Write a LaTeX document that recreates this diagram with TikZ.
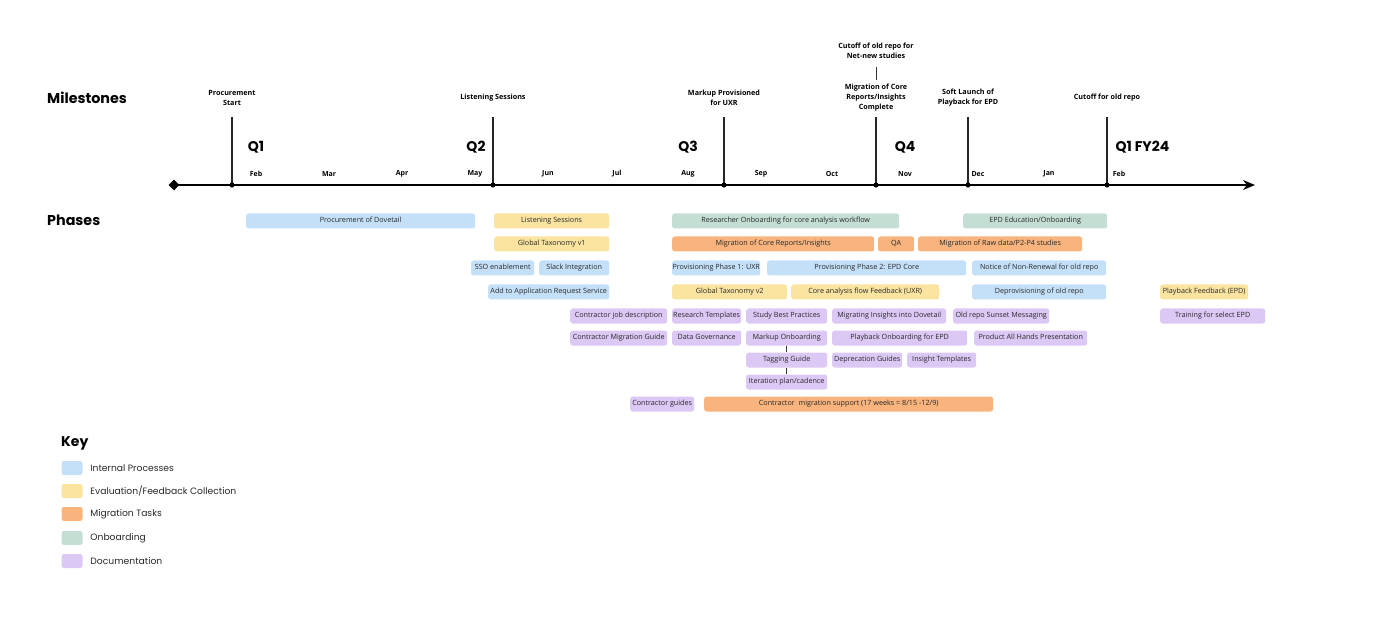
\documentclass[tikz,border=0pt]{standalone}
\usepackage{fontspec}
\setmainfont{Open Sans}
\newfontfamily\popfont{Poppins}
\usepackage{xcolor}
\definecolor{procblue}{RGB}{196, 224, 248}
\definecolor{evalyellow}{RGB}{250, 228, 160}
\definecolor{migorange}{RGB}{248, 180, 124}
\definecolor{onbgreen}{RGB}{196, 222, 212}
\definecolor{docpurple}{RGB}{220, 200, 245}
\definecolor{barink}{RGB}{40, 40, 40}
\usepackage{tikz}
\usetikzlibrary{arrows.meta, positioning, shapes.geometric}

\begin{document}
\begin{tikzpicture}[x=1pt, y=-1pt, >=Stealth,
    bar/.style={anchor=west, rounded corners=2.5pt, minimum height=15pt, inner sep=0pt, text height=5.3pt, text depth=1.5pt, text=barink, font=\fontsize{7.2}{8}\selectfont},
    stone/.style={align=center, font=\bfseries\fontsize{7.2}{10}\selectfont},
    month/.style={font=\bfseries\fontsize{7}{8}\selectfont},
    quarter/.style={font=\popfont\bfseries\fontsize{14}{16}\selectfont},
    heading/.style={anchor=west, inner sep=0pt, font=\popfont\bfseries\fontsize{14.3}{16}\selectfont},
    keybox/.style={rounded corners=2.5pt, minimum width=21pt, minimum height=14pt, inner sep=0pt},
    keytext/.style={inner sep=0pt, font=\popfont\fontsize{9.2}{10}\selectfont, text=barink},
    tickline/.style={line width=1.1pt, black!85},
    link/.style={line width=0.8pt, black!80}]
    \useasboundingbox (0,0) rectangle (1400,620);

    % headings
    \node[heading] (milestones) at (47,98) {Milestones};
    \node[heading] (phases) at (47,220) {Phases};

    % axis
    \node[diamond, fill=black, inner sep=0pt, minimum size=11pt] (axstart) at (174,185) {};
    \coordinate (axend) at (1255,185);
    \draw[line width=2.4pt, -{Stealth[length=12pt, width=10pt]}] (axstart.center) -- (axend);

    % milestones
    \coordinate (ticktop) at (0,117);
    \coordinate (mproc) at (232,185);
    \coordinate (mlisten) at (493,185);
    \coordinate (mmarkup) at (724,185);
    \coordinate (mmigcore) at (876,185);
    \coordinate (msoft) at (968,185);
    \coordinate (mcutoff) at (1107,185);
    \foreach \m in {mproc, mlisten, mmarkup, mmigcore, msoft, mcutoff} {
        \draw[tickline] (\m |- ticktop) -- (\m);
        \fill (\m) circle (2.6pt);
    }
    \node[stone] (lproc) at (232,98) {Procurement\\Start};
    \node[stone] (llisten) at (493,98) {Listening Sessions};
    \node[stone] (lmarkup) at (724,98) {Markup Provisioned\\for UXR};
    \node[stone] (lmigcore) at (876,97.5) {Migration of Core\\Reports/Insights\\Complete};
    \node[stone] (lcutnew) at (876,51) {Cutoff of old repo for\\Net-new studies};
    \node[stone] (lsoft) at (968,98) {Soft Launch of\\Playback for EPD};
    \node[stone] (lcutoff) at (1107,98) {Cutoff for old repo};
    \draw[link, shorten <=5pt, shorten >=0pt] (lcutnew) -- (lmigcore);

    % quarters and months
    \node[quarter] (q1) at (256,147) {Q1};
    \node[quarter] (q2) at (476,147) {Q2};
    \node[quarter] (q3) at (688,147) {Q3};
    \node[quarter] (q4) at (905,147) {Q4};
    \node[quarter, anchor=west] (q1fy) at (1112,147) {Q1 FY24};
    \foreach \x/\mon in {256/Feb, 329/Mar, 402/Apr, 475/May, 548/Jun, 617/Jul, 688/Aug, 761/Sep, 832/Oct, 905/Nov, 978/Dec, 1049/Jan, 1119/Feb}
        \node[month] (mon\x) at (\x,174) {\mon};

    % phases
    \node[bar, fill=procblue, minimum width=229pt] (procdove) at (246,221) {Procurement of Dovetail};
    \node[bar, fill=evalyellow, minimum width=115pt] (listen) at (494,221) {Listening Sessions};
    \node[bar, fill=onbgreen, minimum width=227pt] (resonb) at (672,221) {Researcher Onboarding for core analysis workflow};
    \node[bar, fill=onbgreen, minimum width=144pt] (epdonb) at (963,221) {EPD Education/Onboarding};

    \node[bar, fill=evalyellow, minimum width=115pt] (taxvone) at (494,244) {Global Taxonomy v1};
    \node[bar, fill=migorange, minimum width=202pt] (migcore) at (672,244) {Migration of Core Reports/Insights};
    \node[bar, fill=migorange, minimum width=36pt] (qa) at (878,244) {QA};
    \node[bar, fill=migorange, minimum width=164pt] (migraw) at (918,244) {Migration of Raw data/P2-P4 studies};

    \node[bar, fill=procblue, minimum width=63pt] (sso) at (471,268) {SSO enablement};
    \node[bar, fill=procblue, minimum width=70pt] (slack) at (539,268) {Slack Integration};
    \node[bar, fill=procblue, minimum width=88pt] (provone) at (672,268) {Provisioning Phase 1: UXR};
    \node[bar, fill=procblue, minimum width=199pt] (provtwo) at (767,268) {Provisioning Phase 2: EPD Core};
    \node[bar, fill=procblue, minimum width=134pt] (nonrenew) at (972,268) {Notice of Non-Renewal for old repo};

    \node[bar, fill=procblue, minimum width=121pt] (appreq) at (488,292) {Add to Application Request Service};
    \node[bar, fill=evalyellow, minimum width=115pt] (taxvtwo) at (672,292) {Global Taxonomy v2};
    \node[bar, fill=evalyellow, minimum width=148pt] (flowfb) at (791,292) {Core analysis flow Feedback (UXR)};
    \node[bar, fill=procblue, minimum width=134pt] (deprov) at (972,292) {Deprovisioning of old repo};
    \node[bar, fill=evalyellow, minimum width=88pt] (playfb) at (1160,292) {Playback Feedback (EPD)};

    \node[bar, fill=docpurple, minimum width=97pt] (jobdesc) at (570,316) {Contractor job description};
    \node[bar, fill=docpurple, minimum width=69pt] (restempl) at (672,316) {Research Templates};
    \node[bar, fill=docpurple, minimum width=81pt] (bestprac) at (746,316) {Study Best Practices};
    \node[bar, fill=docpurple, minimum width=114pt] (migins) at (832,316) {Migrating Insights into Dovetail};
    \node[bar, fill=docpurple, minimum width=96pt] (sunset) at (953,316) {Old repo Sunset Messaging};
    \node[bar, fill=docpurple, minimum width=105pt] (training) at (1160,316) {Training for select EPD};

    \node[bar, fill=docpurple, minimum width=97pt] (migguide) at (570,338) {Contractor Migration Guide};
    \node[bar, fill=docpurple, minimum width=69pt] (datagov) at (672,338) {Data Governance};
    \node[bar, fill=docpurple, minimum width=81pt] (markup) at (746,338) {Markup Onboarding};
    \node[bar, fill=docpurple, minimum width=135pt] (playonb) at (832,338) {Playback Onboarding for EPD};
    \node[bar, fill=docpurple, minimum width=113pt] (allhands) at (974,338) {Product All Hands Presentation};

    \node[bar, fill=docpurple, minimum width=81pt] (tagging) at (746,360) {Tagging Guide};
    \node[bar, fill=docpurple, minimum width=70pt] (deprec) at (832,360) {Deprecation Guides};
    \node[bar, fill=docpurple, minimum width=69pt] (instempl) at (907,360) {Insight Templates};
    \node[bar, fill=docpurple, minimum width=81pt] (iterplan) at (746,382) {Iteration plan/cadence};

    \node[bar, fill=docpurple, minimum width=64pt] (conguides) at (630,404) {Contractor guides};
    \node[bar, fill=migorange, minimum width=289pt] (consupport) at (704,404) {Contractor~ migration support (17 weeks = 8/15 -12/9)};

    \draw[link] (markup) -- (tagging);
    \draw[link] (tagging) -- (iterplan);

    % key
    \node[heading, font=\popfont\bfseries\fontsize{14}{16}\selectfont] (key) at (61,443) {Key};
    \node[keybox, fill=procblue] (kproc) at (72,468) {};
    \node[keybox, fill=evalyellow] (keval) at (72,491) {};
    \node[keybox, fill=migorange] (kmig) at (72,514) {};
    \node[keybox, fill=onbgreen] (konb) at (72,538) {};
    \node[keybox, fill=docpurple] (kdoc) at (72,561) {};
    \node[keytext, right=7.5pt of kproc] (kproctxt) {Internal Processes};
    \node[keytext, right=7.5pt of keval] (kevaltxt) {Evaluation/Feedback Collection};
    \node[keytext, right=7.5pt of kmig] (kmigtxt) {Migration Tasks};
    \node[keytext, right=7.5pt of konb] (konbtxt) {Onboarding};
    \node[keytext, right=7.5pt of kdoc] (kdoctxt) {Documentation};
\end{tikzpicture}
\end{document}
